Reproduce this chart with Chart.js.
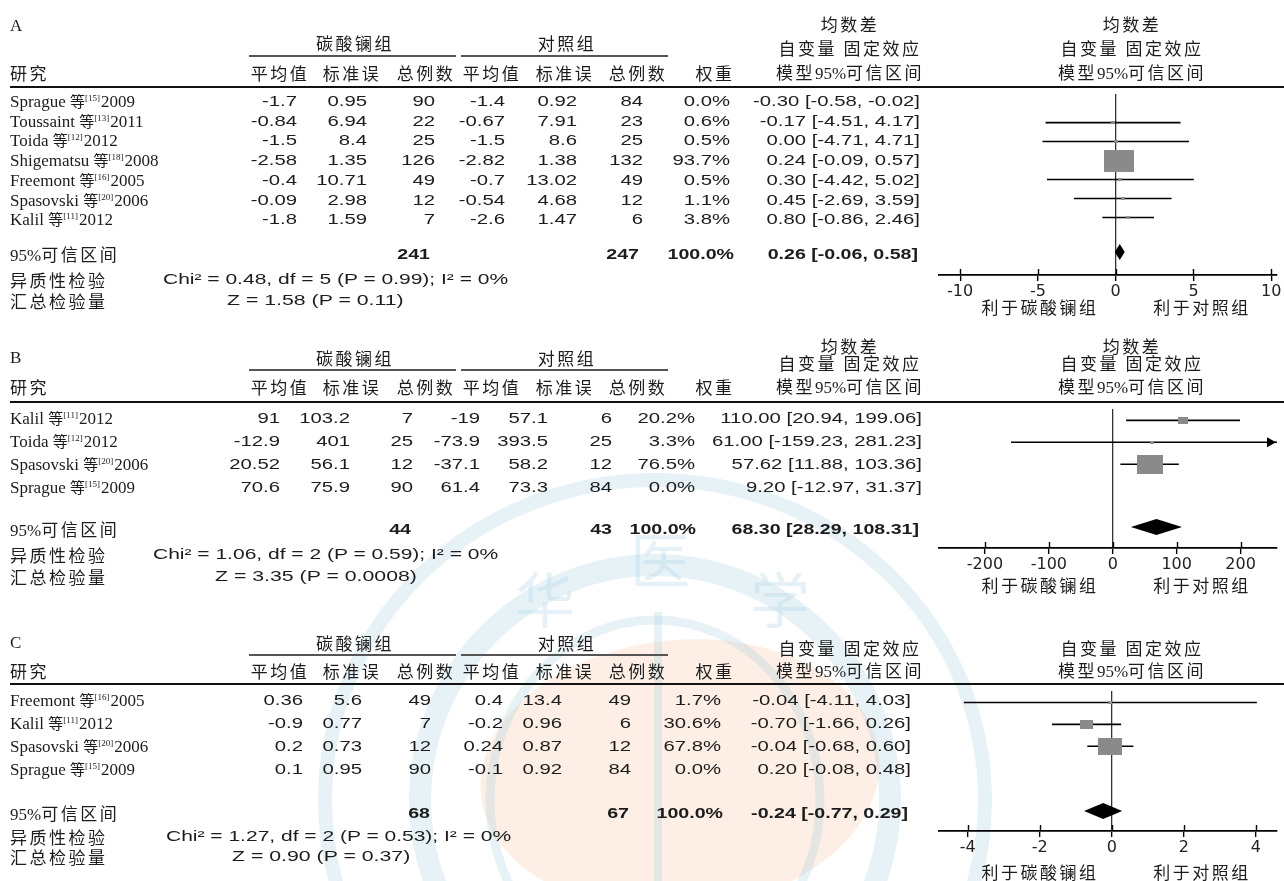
<!DOCTYPE html>
<html>
<head>
<meta charset="utf-8">
<script src="https://cdn.jsdelivr.net/npm/chart.js@4.4.0/dist/chart.umd.min.js"></script>
<style>
html, body { margin: 0; padding: 0; background: #fff; }
body { width: 1284px; height: 881px; position: relative; overflow: hidden; }
#wm { position: absolute; left: 0; top: 0; }
.t { position: absolute; white-space: nowrap; line-height: 1; color: #1c1c1c; }
.cn { font-family: "Noto Sans CJK SC"; font-size: 17px; letter-spacing: 2.5px; }
.num { font-family: "Liberation Sans"; font-size: 14px; }
.serif { font-family: "Liberation Serif"; font-size: 17px; }
.b { font-weight: bold; }
.deng { font-family: "Noto Sans CJK SC"; font-size: 15px; }
.sup { font-family: "Liberation Serif"; font-size: 9px; position: relative; top: -6px; margin-right: 1px; }
.s95 { font-family: "Liberation Serif"; letter-spacing: 0; }
.hl { position: absolute; background: #222; }
.plot { position: absolute; }
</style>
</head>
<body>
<canvas id="wm" width="1284" height="881"></canvas>
<div id="page"></div>
<script>
// ---- Panel A ----
const authorsA = ['Sprague', 'Toussaint', 'Toida', 'Shigematsu', 'Freemont', 'Spasovski', 'Kalil'];
const refsA = [15, 13, 12, 18, 16, 20, 11];
const yearsA = [2009, 2011, 2012, 2008, 2005, 2006, 2012];
const meanLaA = [-1.7, -0.84, -1.5, -2.58, -0.4, -0.09, -1.8];
const sdLaA = [0.95, 6.94, 8.4, 1.35, 10.71, 2.98, 1.59];
const nLaA = [90, 22, 25, 126, 49, 12, 7];
const meanCtA = [-1.4, -0.67, -1.5, -2.82, -0.7, -0.54, -2.6];
const sdCtA = [0.92, 7.91, 8.6, 1.38, 13.02, 4.68, 1.47];
const nCtA = [84, 23, 25, 132, 49, 12, 6];
const weightA = [0.0, 0.6, 0.5, 93.7, 0.5, 1.1, 3.8];
const mdA = [-0.30, -0.17, 0.00, 0.24, 0.30, 0.45, 0.80];
const loA = [-0.58, -4.51, -4.71, -0.09, -4.42, -2.69, -0.86];
const hiA = [-0.02, 4.17, 4.71, 0.57, 5.02, 3.59, 2.46];
const totalA = [241, 247, 0.26, -0.06, 0.58];   // nLa, nCt, md, lo, hi
const hetA = [0.48, 5, 0.99, 0];                // chi2, df, P, I2
const zA = [1.58, 0.11];
const ticksA = [-10, -5, 0, 5, 10];

// ---- Panel B ----
const authorsB = ['Kalil', 'Toida', 'Spasovski', 'Sprague'];
const refsB = [11, 12, 20, 15];
const yearsB = [2012, 2012, 2006, 2009];
const meanLaB = [91, -12.9, 20.52, 70.6];
const sdLaB = [103.2, 401, 56.1, 75.9];
const nLaB = [7, 25, 12, 90];
const meanCtB = [-19, -73.9, -37.1, 61.4];
const sdCtB = [57.1, 393.5, 58.2, 73.3];
const nCtB = [6, 25, 12, 84];
const weightB = [20.2, 3.3, 76.5, 0.0];
const mdB = [110.00, 61.00, 57.62, 9.20];
const loB = [20.94, -159.23, 11.88, -12.97];
const hiB = [199.06, 281.23, 103.36, 31.37];
const totalB = [44, 43, 68.30, 28.29, 108.31];
const hetB = [1.06, 2, 0.59, 0];
const zB = [3.35, 0.0008];
const ticksB = [-200, -100, 0, 100, 200];

// ---- Panel C ----
const authorsC = ['Freemont', 'Kalil', 'Spasovski', 'Sprague'];
const refsC = [16, 11, 20, 15];
const yearsC = [2005, 2012, 2006, 2009];
const meanLaC = [0.36, -0.9, 0.2, 0.1];
const sdLaC = [5.6, 0.77, 0.73, 0.95];
const nLaC = [49, 7, 12, 90];
const meanCtC = [0.4, -0.2, 0.24, -0.1];
const sdCtC = [13.4, 0.96, 0.87, 0.92];
const nCtC = [49, 6, 12, 84];
const weightC = [1.7, 30.6, 67.8, 0.0];
const mdC = [-0.04, -0.70, -0.04, 0.20];
const loC = [-4.11, -1.66, -0.68, -0.08];
const hiC = [4.03, 0.26, 0.60, 0.48];
const totalC = [68, 67, -0.24, -0.77, 0.29];
const hetC = [1.27, 2, 0.53, 0];
const zC = [0.90, 0.37];
const ticksC = [-4, -2, 0, 2, 4];

// page layout for each panel (pixel positions, not data)
const layoutA = { letter: 25, group: 42, groupLine: 56, colHead: 72, ciHead: [23, 47, 72], headLine: 87,
  row0: 101, rowH: 19.7, total: 254, het: 279, z: 300, axis: 275, favour: 306,
  cols: [297, 367, 435, 505, 577, 643, 730, 920], totCols: [430, 639, 734, 918], hetX: 163, zX: 227,
  xRange: [-11.36, 10.37] };
const layoutB = { letter: 357, group: 357, groupLine: 370, colHead: 386, ciHead: [345, 362, 386], headLine: 402,
  row0: 418, rowH: 23, total: 529, het: 554, z: 576, axis: 548, favour: 584,
  cols: [280, 350, 413, 480, 548, 612, 695, 922], totCols: [411, 612, 696, 919], hetX: 153, zX: 215,
  xRange: [-272, 257] };
const layoutC = { letter: 642, group: 642, groupLine: 655, colHead: 670, ciHead: [null, 647, 670], headLine: 684,
  row0: 700, rowH: 23, total: 813, het: 836, z: 856, axis: 831, favour: 871,
  cols: [303, 362, 431, 503, 562, 631, 721, 911], totCols: [430, 629, 723, 908], hetX: 166, zX: 232,
  xRange: [-4.8, 4.59] };

// faint journal watermark behind the page
const wm = document.getElementById('wm').getContext('2d');
wm.fillStyle = 'rgba(250, 205, 175, 0.32)';
wm.beginPath(); wm.ellipse(680, 775, 200, 135, -0.1, 0, Math.PI * 2); wm.fill();
wm.strokeStyle = 'rgba(170, 210, 225, 0.28)';
wm.lineWidth = 14;
wm.beginPath(); wm.ellipse(655, 800, 330, 320, 0, 0, Math.PI * 2); wm.stroke();
wm.lineWidth = 22;
wm.beginPath(); wm.ellipse(655, 800, 235, 235, 0, 0, Math.PI * 2); wm.stroke();
wm.lineWidth = 9;
wm.beginPath(); wm.ellipse(655, 800, 165, 180, 0, 0, Math.PI * 2); wm.stroke();
wm.lineWidth = 8;
wm.beginPath(); wm.moveTo(658, 612); wm.lineTo(658, 881); wm.stroke();
wm.fillStyle = 'rgba(170, 210, 225, 0.3)';
wm.font = '60px "Noto Sans CJK SC"';
wm.textAlign = 'center'; wm.textBaseline = 'middle';
wm.fillText('华', 545, 600); wm.fillText('医', 660, 560); wm.fillText('学', 780, 600);

const page = document.getElementById('page');

// sx stretches the text horizontally (the scanned table numbers are wide)
function text(html, x, y, cls, align, sx) {
  const d = document.createElement('div');
  d.className = 't ' + cls;
  d.innerHTML = html;
  d.style.left = x + 'px';
  d.style.top = y + 'px';
  const tx = align === 'right' ? '-100%' : align === 'center' ? '-50%' : '0';
  const ox = align === 'right' ? '100%' : align === 'center' ? '50%' : '0';
  d.style.transformOrigin = ox + ' 50%';
  d.style.transform = 'translate(' + tx + ', -50%)' + (sx ? ' scaleX(' + sx + ')' : '');
  page.appendChild(d);
  return d;
}

const NUM_SX = 1.45;

function hline(x1, x2, y, w, color) {
  const d = document.createElement('div');
  d.className = 'hl';
  d.style.left = x1 + 'px';
  d.style.width = (x2 - x1) + 'px';
  d.style.top = (y - w / 2) + 'px';
  d.style.height = w + 'px';
  if (color) d.style.background = color;
  page.appendChild(d);
}

function box(w) {
  const bw = Math.max(4, Math.round(Math.pow(w, 0.75)));
  const bh = Math.max(3, Math.round(bw * 0.72));
  const c = document.createElement('canvas');
  c.width = bw; c.height = bh;
  const g = c.getContext('2d');
  g.fillStyle = '#8a8a8a';
  g.fillRect(0, 0, bw, bh);
  return c;
}

// diamond, arrowheads and ticks crossing the axis
const forestMarks = {
  id: 'forestMarks',
  afterDatasetsDraw(chart) {
    const o = chart.options.plugins.forestMarks;
    const x = chart.scales.x, y = chart.scales.y, ctx = chart.ctx;
    ctx.save();
    ctx.fillStyle = '#000';
    const cy = y.getPixelForValue(o.totalY);
    ctx.beginPath();
    ctx.moveTo(x.getPixelForValue(o.total[1]), cy);
    ctx.lineTo(x.getPixelForValue(o.total[0]), cy - 8);
    ctx.lineTo(x.getPixelForValue(o.total[2]), cy);
    ctx.lineTo(x.getPixelForValue(o.total[0]), cy + 8);
    ctx.closePath();
    ctx.fill();
    o.arrows.forEach(a => {
      const py = y.getPixelForValue(a.y);
      const px = x.getPixelForValue(a.x) - 1;
      ctx.beginPath();
      ctx.moveTo(px, py);
      ctx.lineTo(px - 9, py - 5);
      ctx.lineTo(px - 9, py + 5);
      ctx.closePath();
      ctx.fill();
    });
    const bottom = chart.chartArea.bottom;
    ctx.strokeStyle = '#000';
    ctx.lineWidth = 1.4;
    x.ticks.forEach(t => {
      const px = Math.round(x.getPixelForValue(t.value)) + 0.5;
      ctx.beginPath();
      ctx.moveTo(px, bottom - 6);
      ctx.lineTo(px, bottom);
      ctx.stroke();
    });
    ctx.restore();
  }
};

function renderPanel(label, p, L) {
  text(label, 10, L.letter, 'serif');
  text('碳酸镧组', 355, L.group, 'cn', 'center');
  hline(249, 456, L.groupLine, 1.3, '#555');
  text('对照组', 567, L.group, 'cn', 'center');
  hline(461, 668, L.groupLine, 1.3, '#555');
  text('研究', 10, L.colHead, 'cn');
  const heads = ['平均值', '标准误', '总例数', '平均值', '标准误', '总例数', '权重'];
  const headX = [280, 352, 426, 492, 565, 638, 715];
  heads.forEach((h, i) => text(h, headX[i], L.colHead, 'cn', 'center'));
  const ciLines = ['均数差', '自变量 固定效应', '模型<span class="s95">95%</span>可信区间'];
  ciLines.forEach((s, k) => {
    if (L.ciHead[k] == null) return;
    text(s, 850, L.ciHead[k], 'cn', 'center');
    text(s, 1132, L.ciHead[k], 'cn', 'center');
  });
  hline(10, 1284, L.headLine, 2.2, '#111');

  p.authors.forEach((a, i) => {
    const y = L.row0 + i * L.rowH;
    text(a + ' <span class="deng">等</span><span class="sup">[' + p.refs[i] + ']</span>' + p.years[i], 10, y, 'serif');
    const vals = [p.meanLa[i], p.sdLa[i], p.nLa[i], p.meanCt[i], p.sdCt[i], p.nCt[i],
      p.weight[i].toFixed(1) + '%',
      p.md[i].toFixed(2) + ' [' + p.lo[i].toFixed(2) + ', ' + p.hi[i].toFixed(2) + ']'];
    vals.forEach((v, k) => text(String(v), L.cols[k], y, 'num', 'right', NUM_SX));
  });

  text('<span class="s95">95%</span>可信区间', 10, L.total, 'cn');
  const tot = [p.total[0], p.total[1], '100.0%',
    p.total[2].toFixed(2) + ' [' + p.total[3].toFixed(2) + ', ' + p.total[4].toFixed(2) + ']'];
  tot.forEach((v, k) => text(String(v), L.totCols[k], L.total, 'num b', 'right', 1.4));
  text('异质性检验', 10, L.het, 'cn');
  text('Chi² = ' + p.het[0].toFixed(2) + ', df = ' + p.het[1] + ' (P = ' + p.het[2] + '); I² = ' + p.het[3] + '%',
    L.hetX, L.het, 'num', 'left', 1.5);
  text('汇总检验量', 10, L.z, 'cn');
  text('Z = ' + p.z[0].toFixed(2) + ' (P = ' + p.z[1] + ')', L.zX, L.z, 'num', 'left', 1.52);
  text('利于碳酸镧组', 1040, L.favour, 'cn', 'center');
  text('利于对照组', 1202, L.favour, 'cn', 'center');

  // forest plot
  const h = L.axis - L.headLine;
  const cv = document.createElement('canvas');
  cv.width = 352; cv.height = h + 40;
  cv.className = 'plot';
  cv.style.left = '932px';
  cv.style.top = L.headLine + 'px';
  page.appendChild(cv);

  const [xmin, xmax] = L.xRange;
  const rowY = i => L.row0 + i * L.rowH - 4 - L.headLine;
  const shown = p.weight.map((w, i) => i).filter(i => p.weight[i] > 0);

  const datasets = [{
    data: shown.map(i => ({ x: p.md[i], y: rowY(i) })),
    pointStyle: shown.map(i => box(p.weight[i])),
    pointRadius: 6,
    order: 0
  }];
  shown.forEach(i => {
    datasets.push({
      data: [{ x: Math.max(p.lo[i], xmin), y: rowY(i) }, { x: Math.min(p.hi[i], xmax), y: rowY(i) }],
      showLine: true,
      borderColor: '#000',
      borderWidth: 1.6,
      pointRadius: 0,
      order: 1
    });
  });

  new Chart(cv, {
    type: 'scatter',
    data: { datasets },
    plugins: [forestMarks],
    options: {
      responsive: false,
      animation: false,
      layout: { padding: 0 },
      plugins: {
        legend: { display: false },
        tooltip: { enabled: false },
        forestMarks: {
          total: [p.total[2], p.total[3], p.total[4]],
          totalY: L.total - 3 - L.headLine,
          arrows: shown.filter(i => p.hi[i] > xmax).map(i => ({ x: xmax, y: rowY(i) }))
        }
      },
      scales: {
        x: {
          type: 'linear',
          min: xmin,
          max: xmax,
          afterBuildTicks: s => { s.ticks = p.ticks.map(v => ({ value: v })); },
          afterFit: s => { s.height = 40; s.paddingLeft = 0; s.paddingRight = 0; },
          grid: {
            color: c => (c.tick && c.tick.value === 0) ? '#333' : 'rgba(0,0,0,0)',
            lineWidth: 1.3,
            tickLength: 6,
            tickColor: '#000',
            tickWidth: 1.4
          },
          border: { color: '#000', width: 1.8 },
          ticks: {
            font: { family: 'DejaVu Sans', size: 16 },
            color: '#222',
            padding: 1,
            maxRotation: 0,
            callback: v => String(v)
          }
        },
        y: { type: 'linear', min: 0, max: h, reverse: true, display: false }
      }
    }
  });
}

renderPanel('A', {
  authors: authorsA, refs: refsA, years: yearsA, meanLa: meanLaA, sdLa: sdLaA, nLa: nLaA,
  meanCt: meanCtA, sdCt: sdCtA, nCt: nCtA, weight: weightA, md: mdA, lo: loA, hi: hiA,
  total: totalA, het: hetA, z: zA, ticks: ticksA
}, layoutA);

renderPanel('B', {
  authors: authorsB, refs: refsB, years: yearsB, meanLa: meanLaB, sdLa: sdLaB, nLa: nLaB,
  meanCt: meanCtB, sdCt: sdCtB, nCt: nCtB, weight: weightB, md: mdB, lo: loB, hi: hiB,
  total: totalB, het: hetB, z: zB, ticks: ticksB
}, layoutB);

renderPanel('C', {
  authors: authorsC, refs: refsC, years: yearsC, meanLa: meanLaC, sdLa: sdLaC, nLa: nLaC,
  meanCt: meanCtC, sdCt: sdCtC, nCt: nCtC, weight: weightC, md: mdC, lo: loC, hi: hiC,
  total: totalC, het: hetC, z: zC, ticks: ticksC
}, layoutC);
</script>
</body>
</html>
